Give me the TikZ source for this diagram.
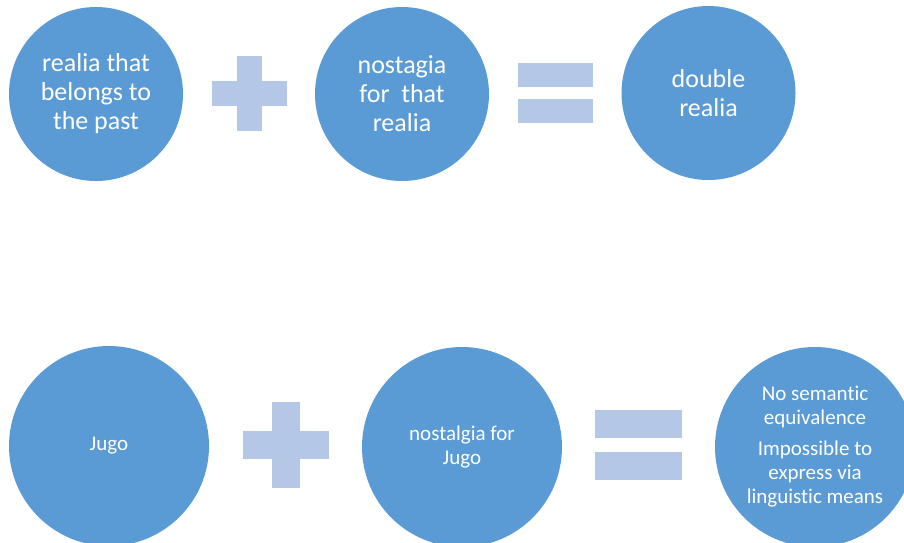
\documentclass[tikz,border=0pt]{standalone}
\usepackage{fontspec}
\setmainfont[Ligatures=NoCommon]{Carlito}
\usetikzlibrary{positioning}

\definecolor{circblue}{HTML}{5B9BD5}
\definecolor{signblue}{HTML}{B4C7E7}

\begin{document}
\begin{tikzpicture}[x=1pt, y=-1pt,
    bigcirc/.style={circle, fill=circblue, text=white, align=center, inner sep=0pt},
    toptext/.style={font=\fontsize{26}{29}\selectfont},
    lowtext/.style={font=\fontsize{21}{24}\selectfont},
    bar/.style={rectangle, fill=signblue, inner sep=0pt}
]
\useasboundingbox (0,0) rectangle (904,542);
\clip (0,0) rectangle (904,542);

% Top row
\node[bigcirc, toptext, minimum size=174pt] (past) at (96,94) {realia that\\belongs to\\the past};
\node[bigcirc, toptext, minimum size=174pt] (nost) at (402,94) {nostagia\\for~ that\\realia};
\node[bigcirc, toptext, minimum size=174pt] (double) at (708.5,93) {double\\realia};

% Top signs
\node[bar, minimum width=75pt, minimum height=24.5pt] (plusA-h) at (249.5,93.5) {};
\node[bar, minimum width=24.5pt, minimum height=75pt] (plusA-v) at (249.5,93.5) {};
\node[bar, minimum width=75pt, minimum height=24pt] (eqA-up) at (555.5,75) {};
\node[bar, minimum width=75pt, minimum height=24pt, below=12pt of eqA-up] (eqA-dn) {};

% Bottom row
\node[bigcirc, lowtext, minimum size=200pt] (jugo) at (109,446) {Jugo};
\node[bigcirc, lowtext, minimum size=200pt] (nostjugo) at (462,447) {nostalgia for\\Jugo};
\node[bigcirc, lowtext, minimum size=200pt] (noequiv) at (815,447) {No semantic\\equivalence\\[7pt]Impossible to\\express via\\linguistic means};

% Bottom signs
\node[bar, minimum width=86pt, minimum height=28pt] (plusB-h) at (285.5,445) {};
\node[bar, minimum width=28pt, minimum height=86pt] (plusB-v) at (285.5,445) {};
\node[bar, minimum width=87pt, minimum height=28pt] (eqB-up) at (638.5,424) {};
\node[bar, minimum width=87pt, minimum height=28pt, below=14pt of eqB-up] (eqB-dn) {};

\end{tikzpicture}
\end{document}
